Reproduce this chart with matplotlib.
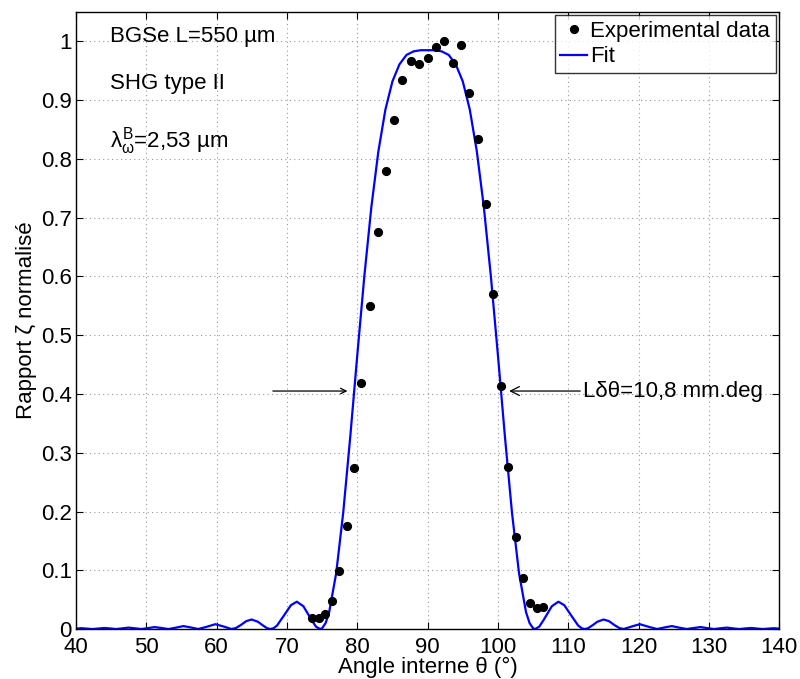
import matplotlib
matplotlib.use('Agg')
import matplotlib.pyplot as plt

plt.rcParams['font.family'] = ['Liberation Sans', 'DejaVu Sans']
plt.rcParams['mathtext.fontset'] = 'custom'
plt.rcParams['mathtext.rm'] = 'Liberation Sans'
plt.rcParams['mathtext.it'] = 'Liberation Sans'

# experimental points (angle in deg, normalised ratio)
exp_angle = [73.5, 74.5, 75.4, 76.4, 77.4, 78.5, 79.5, 80.6, 81.8, 82.9,
             84.1, 85.2, 86.4, 87.6, 88.8, 90.0, 91.2, 92.4, 93.6, 94.8,
             95.9, 97.1, 98.25, 99.3, 100.4, 101.5, 102.6, 103.6, 104.6, 105.5,
             106.4]
exp_value = [0.019, 0.019, 0.026, 0.048, 0.099, 0.176, 0.274, 0.418, 0.550, 0.675,
             0.780, 0.867, 0.934, 0.967, 0.961, 0.971, 0.990, 1.000, 0.964, 0.994,
             0.912, 0.834, 0.724, 0.570, 0.413, 0.276, 0.157, 0.086, 0.045, 0.036,
             0.037]

# fit curve
fit_angle = [40.0, 40.74, 41.53, 42.34, 43.16, 43.99, 44.84, 45.69, 46.57, 47.45,
             48.36, 49.27, 50.21, 51.17, 52.14, 53.14, 54.15, 55.28, 56.27, 57.37,
             58.5, 59.81, 60.87, 62.11, 62.73, 63.41, 64.21, 64.98, 65.88, 66.46,
             67.17, 67.66, 68.09, 68.59, 69.55, 70.56, 71.4, 72.34, 73.49, 74.12,
             74.7, 75.0, 75.5, 76.0, 77.0, 78.0, 79.0, 80.0, 81.0, 82.0,
             83.0, 84.0, 85.0, 86.0, 87.0, 88.0, 89.0, 90.0, 91.0, 92.0,
             93.0, 94.0, 95.0, 96.0, 97.0, 98.0, 99.0, 100.0, 101.0, 102.0,
             103.0, 104.0, 104.5, 105.0, 105.3, 105.88, 106.51, 107.66, 108.6, 109.44,
             110.45, 111.41, 111.91, 112.34, 112.83, 113.54, 114.12, 115.02, 115.79, 116.59,
             117.27, 117.89, 119.13, 120.19, 121.5, 122.63, 123.73, 124.72, 125.85, 126.86,
             127.86, 128.83, 129.79, 130.73, 131.64, 132.55, 133.43, 134.31, 135.16, 136.01,
             136.84, 137.66, 138.47, 139.26, 140.0]
fit_value = [0.0007, 0.0014, 0.0007, 0.0, 0.0008, 0.0018, 0.0010, 0.0, 0.0011, 0.0024,
             0.0013, 0.0, 0.0015, 0.0033, 0.0018, 0.0, 0.0022, 0.0050, 0.0028, 0.0,
             0.0035, 0.0082, 0.0047, 0.0, 0.0016, 0.0066, 0.0134, 0.0162, 0.0123, 0.0071,
             0.0014, 0.0, 0.0013, 0.0060, 0.0226, 0.0405, 0.0465, 0.0387, 0.0156, 0.0041,
             0.0, 0.0013, 0.0102, 0.0285, 0.095, 0.198, 0.327, 0.466, 0.600, 0.718,
             0.813, 0.884, 0.932, 0.961, 0.977, 0.983, 0.985, 0.985, 0.985, 0.983,
             0.977, 0.961, 0.932, 0.884, 0.813, 0.718, 0.600, 0.466, 0.327, 0.198,
             0.095, 0.0285, 0.0102, 0.0013, 0.0, 0.0041, 0.0156, 0.0387, 0.0465, 0.0405,
             0.0226, 0.0060, 0.0013, 0.0, 0.0014, 0.0071, 0.0123, 0.0162, 0.0134, 0.0066,
             0.0016, 0.0, 0.0047, 0.0082, 0.0035, 0.0, 0.0028, 0.0050, 0.0022, 0.0,
             0.0018, 0.0033, 0.0015, 0.0, 0.0013, 0.0024, 0.0011, 0.0, 0.0010, 0.0018,
             0.0008, 0.0, 0.0007, 0.0014, 0.0007]

x_ticks = [40, 50, 60, 70, 80, 90, 100, 110, 120, 130, 140]
y_ticks = [0, 0.1, 0.2, 0.3, 0.4, 0.5, 0.6, 0.7, 0.8, 0.9, 1]
y_ticklabels = ['0', '0.1', '0.2', '0.3', '0.4', '0.5', '0.6', '0.7', '0.8', '0.9', '1']

fs = 16
fig = plt.figure(figsize=(8, 6.79), dpi=100)
ax = fig.add_axes([0.095, 0.0736, 0.879, 0.9087])

ax.plot(exp_angle, exp_value, 'o', color='k', ms=5.6, label='Experimental data', zorder=3)
ax.plot(fit_angle, fit_value, '-', color='#0000ff', lw=1.6, label='Fit', zorder=2)

ax.set_xlim(40, 140)
ax.set_ylim(0, 1.05)
ax.set_xticks(x_ticks)
ax.set_yticks(y_ticks)
ax.set_yticklabels(y_ticklabels)
ax.tick_params(direction='in', top=True, right=True, length=5, width=0.8,
               labelsize=fs, pad=3)
ax.tick_params(axis='x', pad=6)
ax.grid(True, linestyle=(0, (1, 3)), color='#999999', linewidth=0.8)
for s in ax.spines.values():
    s.set_linewidth(1.0)

ax.set_xlabel('Angle interne θ (°)', fontsize=fs, labelpad=-1)
ax.set_ylabel('Rapport ζ normalisé', fontsize=fs, labelpad=3)

ax.text(44.8, 1.008, 'BGSe L=550 µm', fontsize=fs, va='center')
ax.text(44.8, 0.929, 'SHG type II', fontsize=fs, va='center')
ax.text(44.8, 0.831, r'$\lambda_{\omega}^{B}$=2,53 µm', fontsize=fs, va='center')

ax.annotate('', xy=(79.0, 0.405), xytext=(67.6, 0.405),
            arrowprops=dict(arrowstyle='->', color='k', lw=0.9))
ax.annotate('Lδθ=10,8 mm.deg', xy=(101.2, 0.405), xytext=(112.1, 0.405),
            fontsize=fs, va='center', ha='left',
            arrowprops=dict(arrowstyle='->', color='k', lw=0.9, shrinkA=0))

leg = ax.legend(loc='upper right', fontsize=fs, frameon=True, fancybox=False,
                edgecolor='k', borderaxespad=0.15, handlelength=1.2,
                handletextpad=0.15, borderpad=0.25, labelspacing=0.2)
leg.get_frame().set_linewidth(1.0)

fig.savefig('out.png', dpi=100)
